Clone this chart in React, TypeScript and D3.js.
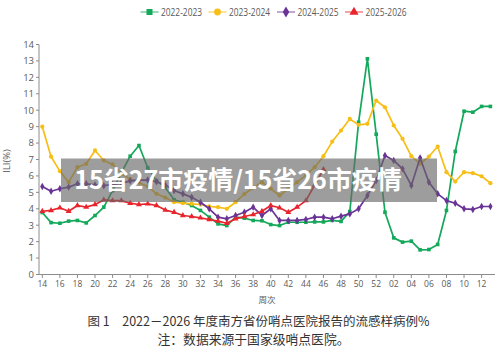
import React from "react";
import * as d3 from "d3";

const weeks: number[] = [
  14, 15, 16, 17, 18, 19, 20, 21, 22, 23, 24, 25, 26, 27, 28, 29, 30, 31, 32, 33,
  34, 35, 36, 37, 38, 39, 40, 41, 42, 43, 44, 45, 46, 47, 48, 49, 50, 51, 52,
  1, 2, 3, 4, 5, 6, 7, 8, 9, 10, 11, 12, 13,
];

const seriesNames = ["2022-2023", "2023-2024", "2024-2025", "2025-2026"];

const s2022 = [
  3.77, 3.16, 3.12, 3.25, 3.29, 3.14, 3.59, 4.1, 5.1, 6.2, 7.2, 7.85, 6.5, 5.7, 5.3,
  4.55, 4.4, 4.2, 3.9, 3.49, 3.08, 2.98, 3.49, 3.43, 3.29, 3.27, 3.04, 2.98, 3.18,
  3.18, 3.18, 3.2, 3.2, 3.29, 3.23, 3.83, 9.27, 13.13, 8.54, 3.79, 2.23, 1.97, 2.03,
  1.5, 1.52, 1.83, 3.9, 7.49, 9.94, 9.88, 10.23, 10.23,
];
const s2023 = [
  9.0, 7.17, 6.29, 5.62, 6.53, 6.74, 7.55, 6.94, 6.7, 6.13, 5.82, 5.58, 5.36, 4.91,
  4.68, 4.4, 4.34, 4.3, 4.26, 4.14, 4.1, 4.0, 4.4, 4.9, 5.28, 5.62, 5.22, 4.81, 5.22,
  5.62, 6.03, 6.53, 7.2, 8.09, 8.76, 9.47, 9.11, 9.17, 10.59, 10.18, 9.07, 8.26, 7.2,
  6.74, 7.18, 7.79, 6.23, 5.66, 6.23, 6.17, 5.98, 5.56,
];
const s2024 = [
  5.36, 5.07, 5.22, 5.32, 5.52, 5.52, 5.45, 5.4, 5.5, 5.55, 5.7, 5.75, 5.75, 5.65,
  5.45, 5.11, 4.91, 4.7, 4.4, 4.0, 3.49, 3.39, 3.59, 3.79, 4.1, 3.59, 4.0, 3.29, 3.29,
  3.29, 3.35, 3.49, 3.49, 3.39, 3.55, 3.69, 4.0, 4.81, 5.72, 7.24, 6.94, 6.43, 5.42,
  7.1, 5.62, 4.91, 4.5, 4.34, 4.0, 3.96, 4.14, 4.14,
];
const s2025 = [
  3.85, 3.9, 4.06, 3.85, 4.2, 4.1, 4.26, 4.54, 4.5, 4.5, 4.34, 4.26, 4.3, 4.2, 3.92,
  3.79, 3.59, 3.53, 3.45, 3.35, 3.25, 3.12, 3.39, 3.53, 3.65, 3.85, 4.2, 4.06, 3.79,
  4.1, 4.5, 5.45, 6.4,
];

const yTicks = [0, 1, 2, 3, 4, 5, 6, 7, 8, 9, 10, 11, 12, 13, 14];

const colors = ["#13a85a", "#f7be16", "#6a3396", "#e8242c"];
const symbols = [d3.symbolSquare, d3.symbolCircle, d3.symbolDiamond, d3.symbolTriangle];

const overlayText = "15省27市疫情/15省26市疫情";
const xTitle = "周次";
const yTitle = "ILI(%)";
const caption1 = "图 1　2022－2026 年度南方省份哨点医院报告的流感样病例%";
const caption2 = "注：数据来源于国家级哨点医院。";

export default function App() {
  const W = 500;
  const H = 361;
  const keys = weeks.map((w, i) => `${i}`);
  const x = d3.scalePoint<string>().domain(keys).range([42.3, 490.4]).padding(0);
  const y = d3.scaleLinear().domain([0, 14]).range([274.5, 44.5]);
  const all = [s2022, s2023, s2024, s2025];
  const line = d3
    .line<number>()
    .x((_, i) => x(`${i}`) as number)
    .y((d) => y(d));
  const axisColor = "#8c8c8c";
  const textColor = "#5a5a5a";
  const numFont = "'Open Sans', 'Noto Sans', sans-serif";
  const cjkFont = "'Noto Sans CJK SC', sans-serif";
  const markerSizes = [13, 14, 16, 15];
  const legendX = [149.5, 217.5, 286, 354];

  return (
    <svg
      width={W}
      height={H}
      viewBox={`0 0 ${W} ${H}`}
      style={{ position: "absolute", left: 0, top: 0, background: "#fff" }}
    >
      <rect x={0} y={0} width={W} height={H} fill="#fff" />
      {/* legend */}
      {seriesNames.map((name, k) => (
        <g key={name} transform={`translate(${legendX[k]},12)`}>
          <line x1={-9} x2={9} y1={0} y2={0} stroke={colors[k]} strokeWidth={1.4} opacity={0.6} />
          <path d={d3.symbol(symbols[k], 36)() as string} fill={colors[k]} />
          <text
            x={11.5}
            y={3.6}
            fontSize={10}
            fill={textColor}
            fontFamily={numFont}
            textLength={41}
            lengthAdjust="spacingAndGlyphs"
          >
            {name}
          </text>
        </g>
      ))}
      {/* y axis */}
      <line x1={39} x2={39} y1={y(14)} y2={y(0)} stroke={axisColor} strokeWidth={1} />
      {yTicks.map((t) => (
        <g key={t}>
          <line x1={36} x2={39} y1={y(t)} y2={y(t)} stroke={axisColor} />
          <text
            x={34}
            y={y(t) + 3.3}
            textAnchor="end"
            fontSize={9.5}
            fill={textColor}
            fontFamily={numFont}
          >
            {t}
          </text>
        </g>
      ))}
      <text
        transform={`translate(10,161) rotate(-90)`}
        textAnchor="middle"
        fontSize={9.5}
        fill={textColor}
        fontFamily={numFont}
      >
        {yTitle}
      </text>
      {/* x axis */}
      <line x1={39} x2={495} y1={y(0)} y2={y(0)} stroke={axisColor} strokeWidth={1} />
      {weeks.map((w, i) =>
        i % 2 === 0 ? (
          <g key={i}>
            <line
              x1={x(`${i}`)}
              x2={x(`${i}`)}
              y1={y(0)}
              y2={y(0) + 3.5}
              stroke={axisColor}
            />
            <text
              x={x(`${i}`)}
              y={287}
              textAnchor="middle"
              fontSize={8.5}
              fill={textColor}
              fontFamily={numFont}
            >
              {String(w).padStart(2, "0")}
            </text>
          </g>
        ) : null
      )}
      <text x={267} y={303} textAnchor="middle" fontSize={8.5} fill={textColor} fontFamily={cjkFont}>
        {xTitle}
      </text>
      {/* series */}
      {all.map((s, k) => (
        <g key={k}>
          <path d={line(s) as string} fill="none" stroke={colors[k]} strokeWidth={1.7} strokeLinejoin="round" />
          {s.map((v, i) => (
            <path
              key={i}
              transform={`translate(${x(`${i}`)},${y(v)})`}
              d={d3.symbol(symbols[k], markerSizes[k])() as string}
              fill={colors[k]}
            />
          ))}
        </g>
      ))}
      {/* overlay banner */}
      <rect x={61} y={158.5} width={376} height={43.5} fill="rgb(105,105,105)" fillOpacity={0.65} />
      <text
        x={238}
        y={189}
        textAnchor="middle"
        fontSize={25}
        fontWeight="bold"
        fill="#fff"
        fontFamily={cjkFont}
      >
        {overlayText}
      </text>
      {/* captions */}
      <text x={258.5} y={326} textAnchor="middle" fontSize={12.5} fill="#333" fontFamily={cjkFont}>
        {caption1}
      </text>
      <text x={253.5} y={344} textAnchor="middle" fontSize={12.8} fill="#333" fontFamily={cjkFont}>
        {caption2}
      </text>
    </svg>
  );
}
